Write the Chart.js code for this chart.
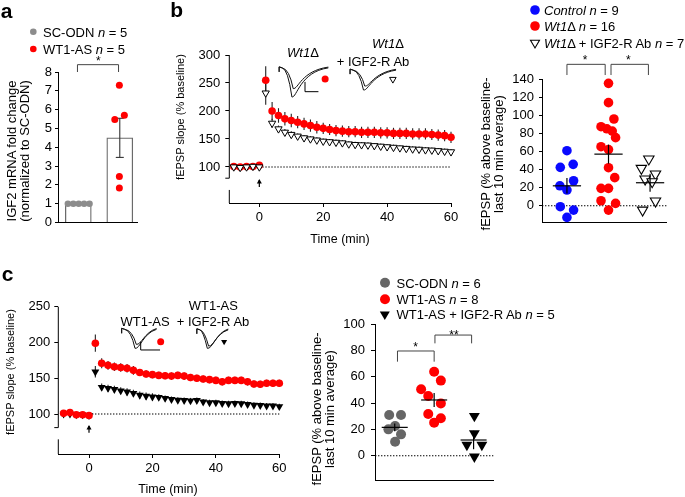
<!DOCTYPE html>
<html>
<head>
<meta charset="utf-8">
<script src="https://cdn.jsdelivr.net/npm/chart.js@4.4.1/dist/chart.umd.min.js"></script>
<style>
  body { margin: 0; background: #fff; }
  #fig { position: relative; width: 685px; height: 497px; overflow: hidden;
         font-family: "Liberation Sans", Arial, Helvetica, sans-serif; font-size: 13px; color: #000; }
  canvas { position: absolute; left: 0; top: 0; }
  .t { position: absolute; white-space: nowrap; line-height: 1; transform: translate(-50%, -50%); }
  .l { position: absolute; white-space: nowrap; line-height: 1; transform: translateY(-50%); }
  .v { position: absolute; white-space: nowrap; line-height: 13px; text-align: center;
       transform: translate(-50%, -50%) rotate(-90deg); }
  .p { font-weight: bold; font-size: 21px; }
  .s { font-size: 11px; }
  .x { font-size: 12.5px; }
  svg { position: absolute; left: 0; top: 0; }
</style>
</head>
<body>
<div id="fig">
  <canvas id="chartA" width="685" height="497"></canvas>
  <canvas id="chartB1" width="685" height="497"></canvas>
  <canvas id="chartB2" width="685" height="497"></canvas>
  <canvas id="chartC1" width="685" height="497"></canvas>
  <canvas id="chartC2" width="685" height="497"></canvas>

  <svg width="685" height="497">
    <circle cx="33.3" cy="31.7" r="3.3" fill="#8c8c8c"/>
    <circle cx="33.3" cy="49" r="3.3" fill="#ff0000"/>
    <circle cx="535" cy="10" r="4.8" fill="#0a0aff"/>
    <circle cx="535" cy="26" r="4.8" fill="#ff0000"/>
    <polygon points="530.5,40.2 539.5,40.2 535,48" fill="#fff" stroke="#000" stroke-width="1.1"/>
    <circle cx="385" cy="282.7" r="5" fill="#666"/>
    <circle cx="385" cy="299.3" r="5" fill="#ff0000"/>
    <polygon points="379.8,311.5 389.8,311.5 384.8,320" fill="#000"/>
  </svg>

  <!-- panel a -->
  <div class="t p" style="left:6.5px;top:9.5px">a</div>
  <div class="l" style="left:43px;top:31.7px">SC-ODN <i>n</i> = 5</div>
  <div class="l" style="left:43px;top:49px">WT1-AS <i>n</i> = 5</div>
  <div class="v" style="left:17.5px;top:151px">IGF2 mRNA fold change<br>(normalized to SC-ODN)</div>
  <div class="t" style="left:98.3px;top:61px;font-size:12px">*</div>

  <!-- panel b -->
  <div class="t p" style="left:176.7px;top:8.5px">b</div>
  <div class="v s" style="left:180px;top:117px">fEPSP slope (% baseline)</div>
  <div class="t x" style="left:340px;top:239px">Time (min)</div>
  <div class="t" style="left:303px;top:52px"><i>Wt1</i>Δ</div>
  <div class="t" style="left:388px;top:43px"><i>Wt1</i>Δ</div>
  <div class="t" style="left:373px;top:61px">+ IGF2-R Ab</div>
  <div class="l" style="left:544px;top:10px"><i>Control n</i> = 9</div>
  <div class="l" style="left:544px;top:26px"><i>Wt1</i>Δ <i>n</i> = 16</div>
  <div class="l" style="left:544px;top:43px"><i>Wt1</i>Δ + IGF2-R Ab <i>n</i> = 7</div>
  <div class="v" style="left:491.5px;top:154px">fEPSP (% above baseline-<br>last 10 min average)</div>
  <div class="t" style="left:585px;top:59.5px;font-size:12px">*</div>
  <div class="t" style="left:628.3px;top:59.5px;font-size:12px">*</div>

  <!-- panel c -->
  <div class="t p" style="left:7.5px;top:272.5px">c</div>
  <div class="v s" style="left:10px;top:372px">fEPSP slope (% baseline)</div>
  <div class="t x" style="left:168px;top:489px">Time (min)</div>
  <div class="t" style="left:145px;top:321px">WT1-AS</div>
  <div class="t" style="left:213.3px;top:305px">WT1-AS</div>
  <div class="t" style="left:213px;top:321px">+ IGF2-R Ab</div>
  <div class="l" style="left:396.5px;top:282.7px">SC-ODN <i>n</i> = 6</div>
  <div class="l" style="left:396.5px;top:299.3px">WT1-AS <i>n</i> = 8</div>
  <div class="l" style="left:396.5px;top:314.3px">WT1-AS + IGF2-R Ab <i>n</i> = 5</div>
  <div class="v" style="left:322.5px;top:409px">fEPSP (% above baseline-<br>last 10 min average)</div>
  <div class="t" style="left:415.7px;top:346.8px;font-size:12px">*</div>
  <div class="t" style="left:454px;top:334.5px;font-size:12px">**</div>
</div>

<script>
// ---------- data: panel a (IGF2 mRNA fold change) ----------
const aGroups = ['SC-ODN', 'WT1-AS'];
const aMean = [1.0, 4.5];
const aSem = [0, 1.04];
const aScOdn = [1.0, 1.0, 1.0, 1.0, 1.0];
const aWt1As = [7.3, 5.7, 5.48, 2.45, 1.84];
const aScSpread = [-0.25, -0.12, 0.01, 0.14, 0.27];
const aAsSpread = [-0.01, 0.11, -0.12, -0.01, -0.01];
const aTicks = [0, 1, 2, 3, 4, 5, 6, 7, 8];

// ---------- data: panel b (Wt1 delta time course + summary) ----------
const bTime = [-8, -6, -4, -2, 0, 2, 4, 6, 8, 10, 12, 14, 16, 18, 20, 22, 24, 26, 28, 30,
               32, 34, 36, 38, 40, 42, 44, 46, 48, 50, 52, 54, 56, 58, 60];
const bWt = [101, 100, 101, 101, 103, 255, 200, 192, 186, 183, 180, 177, 174, 171, 169,
             167, 165, 164, 163, 163, 162, 162, 162, 161, 161, 160, 160, 160, 159, 159, 159, 158, 157, 156, 153];
const bWtErr = [3, 3, 3, 3, 3, 25, 16, 13, 12, 12, 11, 11, 11, 11, 10,
                10, 10, 10, 10, 10, 10, 10, 10, 10, 10, 10, 10, 10, 10, 10, 10, 10, 10, 10, 10];
const bAb = [100, 99, 100, 101, 100, 232, 178, 168, 162, 158, 155, 152, 150, 148, 146,
             145, 144, 143, 141, 140, 139.5, 139, 138, 137, 136, 135, 134, 133, 132, 131.5, 130.5, 130, 129, 128, 127];
const bAbErr = [3, 3, 3, 3, 3, 21, 8, 6, 6, 6, 5, 5, 5, 5, 5,
                5, 5, 5, 5, 5, 5, 5, 5, 5, 5, 5, 5, 5, 5, 5, 5, 5, 5, 5, 5];
const bSlopeTicks = [100, 150, 200, 250, 300];
const timeTicks = [0, 20, 40, 60];

const bGroups = ['Control', 'Wt1Δ', 'Wt1Δ + IGF2-R Ab'];
const bControl = [60.8, 42.4, 45.7, 27.6, 22, 17.3, -1.1, -4.8, -12.9];
const bWtAvg = [135.2, 113.9, 95.8, 87.3, 85, 82.5, 75.2, 65.2, 62, 42, 31, 19.2, 19.2, 5.5, 2.6, -4.8];
const bAbAvg = [51.6, 41.3, 35, 29.5, 26.5, 5.2, -4.8];
const bControlSpread = [0, -0.16, 0.15, 0.16, -0.17, 0, -0.16, 0.16, 0];
const bWtSpread = [0, 0, 0.13, -0.18, -0.04, 0.09, 0.17, -0.18, 0, 0, 0.15, -0.18, 0, -0.18, 0.17, 0];
const bAbSpread = [-0.03, -0.21, 0.13, -0.12, 0.05, 0.13, -0.18];
const bMeans = [22, 57, 25.4];
const bSems = [8.5, 10.5, 10];
const bAvgTicks = [0, 20, 40, 60, 80, 100, 120, 140];

// ---------- data: panel c (WT1-AS time course + summary) ----------
const cTime = bTime;
const cAs = [101, 102, 99, 99, 98, 199, 171, 168, 166, 165, 164, 161, 158, 156, 155,
             154, 153.5, 153, 154, 153, 151, 150, 149, 148, 147, 145, 147, 147, 147, 145, 142, 141.5, 143, 143, 143];
const cAsErr = [3, 3, 3, 3, 3, 12, 7, 6, 6, 6, 6, 6, 5, 5, 5,
                5, 5, 5, 5, 5, 5, 5, 5, 5, 5, 5, 5, 5, 5, 5, 5, 5, 5, 5, 5];
const cAb = [100, 100, 99, 99, 98, 159, 137.5, 136, 134.5, 132.5, 131, 129, 126.5, 125, 124,
             123.5, 122, 120.5, 119.5, 119, 118.5, 119, 117, 116, 116, 115, 114.5, 115, 114.5, 113.5, 112.5, 112, 111.5, 111.5, 110.5];
const cAbErr = [2, 2, 2, 2, 2, 8, 5, 5, 5, 5, 5, 5, 5, 5, 5,
                4, 4, 4, 4, 4, 4, 4, 4, 4, 4, 4, 4, 4, 4, 4, 4, 4, 4, 4, 4];
const cSlopeTicks = [100, 150, 200, 250];

const cGroups = ['SC-ODN', 'WT1-AS', 'WT1-AS + IGF2-R Ab'];
const cScOdn = [30.9, 30.9, 20, 22.5, 16.2, 10.6];
const cAsAvg = [63.8, 57, 50.4, 45.3, 39.7, 31.6, 28.4, 25.1];
const cAbAvg = [30.1, 17, 8.1, 8.1, -0.8];
const cScSpread = [-0.14, 0.16, -0.16, 0.01, 0.16, 0.01];
const cAsSpread = [0, 0.17, -0.33, -0.15, 0.17, -0.15, 0.17, 0];
const cAbSpread = [0.02, 0.02, -0.17, 0.21, 0.02];
const cMeans = [21.5, 42.3, 11.9];
const cSems = [3, 5.3, 7];
const cAvgTicks = [0, 20, 40, 60, 80, 100];

// ---------- shared helpers ----------
const W = 685, H = 497;
const FONT = '"Liberation Sans", Arial, Helvetica, sans-serif';
const TICK_FONT = { family: FONT, size: 13 };
const RED = '#ff0000';

function baseOptions(area, yw, xh) {
  return {
    responsive: false, animation: false, events: [],
    layout: { padding: { left: area.left - yw, top: area.top, right: W - area.right, bottom: H - area.bottom - xh } },
    plugins: { legend: { display: false }, tooltip: { enabled: false } }
  };
}

function valueAxis(min, max, ticks, w, tickLen, pad, border) {
  return {
    type: 'linear', position: 'left', min, max, bounds: 'data',
    afterBuildTicks: s => { s.ticks = ticks.map(v => ({ value: v })); },
    afterFit: s => { s.width = w; },
    grid: { drawOnChartArea: false, drawTicks: true, tickLength: tickLen, color: '#000', lineWidth: 1 },
    border: { display: border !== false, color: '#000', width: 1 },
    ticks: { color: '#000', padding: pad, font: TICK_FONT }
  };
}

function timeAxis(min, max) {
  return {
    type: 'linear', position: 'bottom', min, max, bounds: 'data',
    afterBuildTicks: s => { s.ticks = timeTicks.map(v => ({ value: v })); },
    afterFit: s => { s.height = 30; },
    grid: { drawOnChartArea: false, drawTicks: true, tickLength: 4, color: '#000', lineWidth: 1 },
    border: { display: true, color: '#000', width: 1 },
    ticks: { color: '#000', padding: 3, font: TICK_FONT }
  };
}

function plainAxis(min, max) {
  return {
    type: 'linear', position: 'bottom', min, max, bounds: 'data',
    afterFit: s => { s.height = 10; },
    grid: { display: false },
    border: { display: true, color: '#000', width: 1 },
    ticks: { display: false }
  };
}

function series(times, vals) { return times.map((t, i) => ({ x: t, y: vals[i] })); }
function spread(vals, center, offs) { return vals.map((v, i) => ({ x: center + offs[i], y: v })); }

function seg(ctx, pts, color, width, dash) {
  ctx.save();
  ctx.strokeStyle = color; ctx.lineWidth = width;
  if (dash) ctx.setLineDash(dash);
  ctx.beginPath();
  pts.forEach((p, i) => i ? ctx.lineTo(p[0], p[1]) : ctx.moveTo(p[0], p[1]));
  ctx.stroke();
  ctx.restore();
}

function P(chart, x, y) { return [chart.scales.x.getPixelForValue(x), chart.scales.y.getPixelForValue(y)]; }

function errorBars(chart, times, vals, errs) {
  times.forEach((t, i) => seg(chart.ctx, [P(chart, t, vals[i] - errs[i]), P(chart, t, vals[i] + errs[i])], '#222', 1.1));
}

// time course decorations: broken y axis, baseline, stimulus arrow, insets
function timeDecor(cfg) {
  return {
    id: 'timeDecor',
    beforeDatasetsDraw(chart) {
      const ctx = chart.ctx, a = chart.chartArea, ys = chart.scales.y;
      // broken y axis
      const yTop = ys.getPixelForValue(ys.max), yBreak = ys.getPixelForValue(cfg.breakHigh);
      seg(ctx, [[a.left, yTop], [a.left, yBreak], [a.left - 4, yBreak]], '#000', 1);
      seg(ctx, [[a.left, ys.getPixelForValue(cfg.breakLow)], [a.left, a.bottom]], '#000', 1);
      // baseline
      seg(ctx, [P(chart, 0, 100), P(chart, 60, 100)], '#000', 1.1, [1.4, 1.6]);
      // stimulus arrow
      const tip = P(chart, 0, cfg.arrow[0]), tail = P(chart, 0, cfg.arrow[1]);
      seg(ctx, [tail, tip], '#000', 1.2);
      ctx.save(); ctx.fillStyle = '#000'; ctx.beginPath();
      ctx.moveTo(tip[0], tip[1] - 1); ctx.lineTo(tip[0] - 2.5, tip[1] + 3.5); ctx.lineTo(tip[0] + 2.5, tip[1] + 3.5);
      ctx.closePath(); ctx.fill(); ctx.restore();
      // error bars behind markers
      cfg.errors.forEach(e => errorBars(chart, e[0], e[1], e[2]));
      // inset traces
      cfg.insets.forEach(ins => drawInset(chart, ins));
    }
  };
}

function drawInset(chart, ins) {
  const ctx = chart.ctx;
  const x0 = P(chart, ins.from, ins.top), x1 = P(chart, ins.to, ins.top);
  ins.dips.forEach((d, k) => {
    const m = P(chart, ins.dipAt + k * 0.4, d);
    ctx.save(); ctx.strokeStyle = '#111'; ctx.lineWidth = 1; ctx.beginPath();
    ctx.moveTo(x0[0], x0[1] + 4); ctx.lineTo(x0[0], x0[1] - 1); ctx.lineTo(x0[0] + 3, x0[1]);
    ctx.quadraticCurveTo(m[0] - 4, x0[1] + 1, m[0], m[1]);
    ctx.bezierCurveTo(m[0] + 5, m[1] + 1, m[0] + 8, x0[1] + 4 - k, x1[0], x0[1] - k * 0.8);
    ctx.stroke(); ctx.restore();
  });
  if (ins.bar) {
    const b = ins.bar;
    seg(ctx, [P(chart, b[0], b[2]), P(chart, b[0], b[3]), P(chart, b[1], b[3])], '#000', 1);
  }
  const mk = P(chart, ins.mark[0], ins.mark[1]);
  ctx.save();
  ctx.fillStyle = ins.markFill; ctx.strokeStyle = '#000';
  Chart.helpers.drawPoint(ctx, { pointStyle: ins.markStyle, radius: ins.markSize, rotation: ins.markStyle === 'triangle' ? 180 : 0,
    borderWidth: ins.markFill === '#fff' ? 1 : 0 }, mk[0], mk[1]);
  ctx.restore();
}

// summary scatter decorations: zero line, brackets, mean +- SEM
function summaryDecor(cfg) {
  return {
    id: 'summaryDecor',
    beforeDatasetsDraw(chart) {
      const a = chart.chartArea, y0 = chart.scales.y.getPixelForValue(0);
      seg(chart.ctx, [[a.left, y0], [a.right, y0]], '#000', 1.1, [1.4, 1.6]);
      cfg.brackets.forEach(b => seg(chart.ctx, [P(chart, b[0], b[3]), P(chart, b[0], b[2]), P(chart, b[1], b[2]), P(chart, b[1], b[3])], '#444', 1));
    },
    afterDatasetsDraw(chart) {
      cfg.means.forEach((m, i) => {
        const c = i + 0.5;
        seg(chart.ctx, [P(chart, c - cfg.half, m), P(chart, c + cfg.half, m)], '#000', 1.2);
        seg(chart.ctx, [P(chart, c, m - cfg.sems[i]), P(chart, c, m + cfg.sems[i])], '#000', 1.2);
      });
    }
  };
}

// ---------- panel a ----------
new Chart(document.getElementById('chartA'), {
  type: 'bar',
  data: {
    datasets: [
      { label: aGroups[0] + ' points', type: 'scatter', data: spread(aScOdn, 1, aScSpread),
        pointRadius: 3.3, pointBackgroundColor: '#8c8c8c', pointBorderWidth: 0, clip: false },
      { label: aGroups[1] + ' points', type: 'scatter', data: spread(aWt1As, 2, aAsSpread),
        pointRadius: 3.5, pointBackgroundColor: RED, pointBorderWidth: 0, clip: false },
      { label: 'mean', type: 'bar', data: aMean.map((m, i) => ({ x: i + 1, y: m })),
        barThickness: 26, backgroundColor: '#fff', borderColor: '#6a6a6a', borderWidth: 1.3, borderSkipped: 'bottom' }
    ]
  },
  options: Object.assign(baseOptions({ left: 58, right: 137, top: 72, bottom: 222.5 }, 40, 10), {
    scales: {
      x: Object.assign(plainAxis(0.511, 2.415), { offset: false }),
      y: valueAxis(0, 8, aTicks, 40, 3, 3)
    }
  }),
  plugins: [{
    id: 'aDecor',
    afterDatasetDraw(chart, args) {
      if (args.index !== 2) return;
      aMean.forEach((m, i) => {
        if (!aSem[i]) return;
        const x = i + 1;
        const lo = P(chart, x, m - aSem[i]), hi = P(chart, x, m + aSem[i]);
        seg(chart.ctx, [lo, hi], '#333', 1.1);
        seg(chart.ctx, [[lo[0] - 4, lo[1]], [lo[0] + 4, lo[1]]], '#333', 1.1);
        seg(chart.ctx, [[hi[0] - 4, hi[1]], [hi[0] + 4, hi[1]]], '#333', 1.1);
      });
    },
    afterDraw(chart) {
      seg(chart.ctx, [P(chart, 0.98, 8.0), P(chart, 0.98, 8.39), P(chart, 1.97, 8.39), P(chart, 1.97, 8.0)], '#444', 1);
    }
  }]
});

// ---------- panel b, time course ----------
new Chart(document.getElementById('chartB1'), {
  type: 'scatter',
  data: {
    datasets: [
      { label: bGroups[2], data: series(bTime, bAb), pointStyle: 'triangle', pointRotation: 180, pointRadius: 4.2,
        pointBackgroundColor: '#fff', pointBorderColor: '#000', pointBorderWidth: 1, clip: false },
      { label: bGroups[1], data: series(bTime, bWt), pointRadius: 3.8, pointBackgroundColor: RED,
        pointBorderWidth: 0, clip: false }
    ]
  },
  options: Object.assign(baseOptions({ left: 229.3, right: 451, top: 55, bottom: 203 }, 45, 30), {
    scales: { x: timeAxis(-9.4, 60), y: valueAxis(35.7, 300, bSlopeTicks, 45, 4, 5, false) }
  }),
  plugins: [timeDecor({
    breakHigh: 80, breakLow: 59, arrow: [76.8, 64.3],
    errors: [[bTime, bWt, bWtErr], [bTime, bAb, bAbErr]],
    insets: [
      { from: 6.2, to: 21.6, top: 277, dips: [225, 240], dipAt: 10.2, bar: [14.3, 18.5, 252, 234.5],
        mark: [20.6, 257], markStyle: 'circle', markSize: 3.5, markFill: RED },
      { from: 28.4, to: 42.8, top: 273, dips: [237.5, 244.6], dipAt: 32.6,
        mark: [41.8, 256.6], markStyle: 'triangle', markSize: 3.8, markFill: '#fff' }
    ]
  })]
});

// ---------- panel b, summary ----------
new Chart(document.getElementById('chartB2'), {
  type: 'scatter',
  data: {
    datasets: [
      { label: bGroups[0], data: spread(bControl, 0.5, bControlSpread), pointRadius: 4.8,
        pointBackgroundColor: '#0a0aff', pointBorderWidth: 0, clip: false },
      { label: bGroups[1], data: spread(bWtAvg, 1.5, bWtSpread), pointRadius: 4.8,
        pointBackgroundColor: RED, pointBorderWidth: 0, clip: false },
      { label: bGroups[2], data: spread(bAbAvg, 2.5, bAbSpread), pointStyle: 'triangle', pointRotation: 180,
        pointRadius: 6, pointBackgroundColor: '#fff', pointBorderColor: '#000', pointBorderWidth: 1.1, clip: false }
    ]
  },
  options: Object.assign(baseOptions({ left: 542, right: 666.7, top: 79, bottom: 222.3 }, 40, 10), {
    scales: { x: plainAxis(-0.1, 2.9), y: valueAxis(-18.3, 140, bAvgTicks, 40, 3, 5) }
  }),
  plugins: [summaryDecor({
    means: bMeans, sems: bSems, half: 0.34,
    brackets: [[0.5, 1.42, 156.2, 144.4], [1.56, 2.46, 156.2, 144.4]]
  })]
});

// ---------- panel c, time course ----------
new Chart(document.getElementById('chartC1'), {
  type: 'scatter',
  data: {
    datasets: [
      { label: cGroups[1], data: series(cTime, cAs), pointRadius: 3.8, pointBackgroundColor: RED,
        pointBorderWidth: 0, clip: false },
      { label: cGroups[2], data: series(cTime, cAb), pointStyle: 'triangle', pointRotation: 180, pointRadius: 4.6,
        pointBackgroundColor: '#000', pointBorderWidth: 0, clip: false }
    ]
  },
  options: Object.assign(baseOptions({ left: 58.3, right: 279.3, top: 306.7, bottom: 454 }, 45, 30), {
    scales: { x: timeAxis(-9.68, 60), y: valueAxis(44.1, 250, cSlopeTicks, 45, 4, 4, false) }
  }),
  plugins: [timeDecor({
    breakHigh: 81, breakLow: 64.6, arrow: [83.2, 73.9],
    errors: [[cTime, cAs, cAsErr], [cTime, cAb, cAbErr]],
    insets: [
      { from: 10.3, to: 21.3, top: 218.4, dips: [191.8, 197.4], dipAt: 14.5, bar: [16.3, 22.4, 201, 189.5],
        mark: [22.6, 201], markStyle: 'circle', markSize: 3.5, markFill: RED },
      { from: 34, to: 43.9, top: 217.7, dips: [191.8, 195], dipAt: 37.3,
        mark: [42.6, 201], markStyle: 'triangle', markSize: 3.5, markFill: '#000' }
    ]
  })]
});

// ---------- panel c, summary ----------
new Chart(document.getElementById('chartC2'), {
  type: 'scatter',
  data: {
    datasets: [
      { label: cGroups[0], data: spread(cScOdn, 0.5, cScSpread), pointRadius: 5,
        pointBackgroundColor: '#666', pointBorderWidth: 0, clip: false },
      { label: cGroups[1], data: spread(cAsAvg, 1.5, cAsSpread), pointRadius: 5,
        pointBackgroundColor: RED, pointBorderWidth: 0, clip: false },
      { label: cGroups[2], data: spread(cAbAvg, 2.5, cAbSpread), pointStyle: 'triangle', pointRotation: 180,
        pointRadius: 6.3, pointBackgroundColor: '#000', pointBorderWidth: 0, clip: false }
    ]
  },
  options: Object.assign(baseOptions({ left: 375, right: 493.3, top: 324, bottom: 480.7 }, 40, 10), {
    scales: { x: plainAxis(0, 3), y: valueAxis(-19, 100, cAvgTicks, 40, 4, 6) }
  }),
  plugins: [summaryDecor({
    means: cMeans, sems: cSems, half: 0.33,
    brackets: [[0.57, 1.5, 79.5, 71.4], [1.52, 2.45, 91.6, 85.3]]
  })]
});
</script>
</body>
</html>
